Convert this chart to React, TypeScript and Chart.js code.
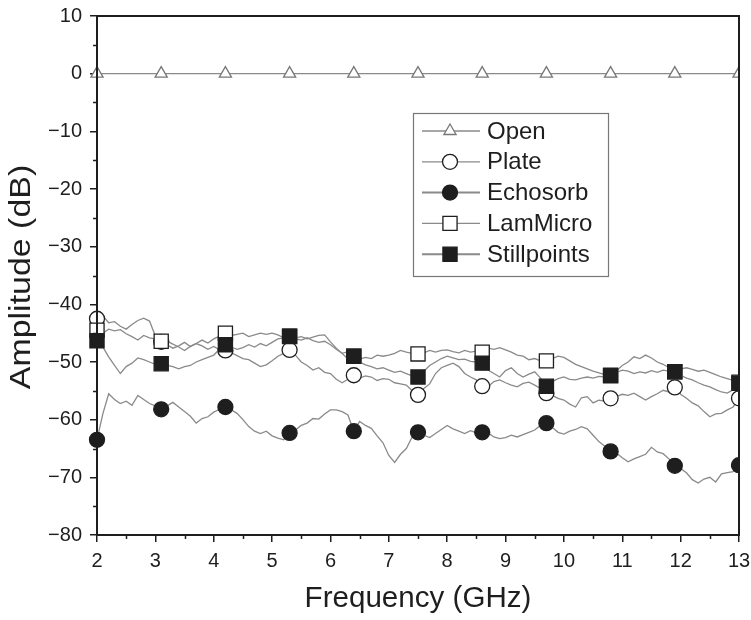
import React, { useEffect, useRef } from 'react';
import { Chart, registerables } from 'chart.js';
Chart.register(...registerables);

// Frequency grid (GHz), 0.1 GHz apart from 2 to 13
const FREQ_START = 2;
const FREQ_STEP = 0.1;
const FREQ_COUNT = 111;
const FREQ = Array.from({ length: FREQ_COUNT }, (_, i) => Math.round((FREQ_START + i * FREQ_STEP) * 10) / 10);
// a marker every 11 samples (2, 3.1, 4.2 ... 13)
const MARKER_EVERY = 11;

const OPEN_FREQ = [2, 3.1, 4.2, 5.3, 6.4, 7.5, 8.6, 9.7, 10.8, 11.9, 13];
const OPEN = [0, 0, 0, 0, 0, 0, 0, 0, 0, 0, 0];

const PLATE = [
  -42.5, -42.0, -43.2, -43.0, -43.8, -44.3, -43.5, -42.8, -42.4, -42.9,
  -45.5, -46.5, -46.4, -46.9, -47.4, -48.0, -47.3, -46.8, -47.2, -47.8,
  -47.3, -47.9, -48.0, -48.4, -48.9, -49.4, -49.6, -50.2, -50.8, -50.5,
  -49.8, -49.0, -48.5, -47.9, -48.8, -50.0, -50.6, -51.4, -51.0, -51.8,
  -52.0, -53.0, -53.6, -53.0, -52.3, -52.8, -52.4, -52.6, -53.2, -52.9,
  -53.0, -53.6, -53.8, -54.0, -55.0, -55.7, -54.6, -53.8, -52.0, -51.0,
  -50.6, -50.2, -50.8, -52.0, -52.6, -53.1, -54.2, -54.3, -53.4, -53.1,
  -53.6, -54.0, -54.3, -53.7, -53.5, -54.0, -54.6, -55.4, -55.8, -56.3,
  -56.6, -57.3, -57.8, -56.2, -56.0, -57.1, -56.6, -56.8, -56.3, -56.0,
  -55.6, -55.8, -55.4, -56.0, -56.6, -56.0, -55.5, -54.9, -55.2, -54.4,
  -55.6, -56.3, -57.1, -57.6, -58.6, -59.5, -59.0, -58.9, -58.3, -57.8,
  -56.3,
];

const ECHOSORB = [
  -63.5, -59.0, -55.5, -56.5, -57.2, -56.8, -57.5, -55.8, -56.5, -57.2,
  -57.6, -58.2, -57.6, -57.0, -57.8, -58.6, -59.4, -60.6, -59.8, -59.5,
  -58.7, -58.2, -57.8, -58.3, -58.9, -60.0, -61.2, -62.0, -62.4, -62.0,
  -62.8, -63.2, -63.5, -62.3, -61.8, -61.0, -60.6, -59.8, -59.9, -59.0,
  -58.3, -58.3, -58.6, -59.2, -62.0, -60.3, -61.0, -61.5, -62.8, -64.0,
  -66.2, -67.4, -66.0, -65.0, -63.0, -62.2, -62.7, -63.1, -62.4, -61.7,
  -61.0, -61.6, -62.0, -62.4, -61.9, -62.3, -62.2, -62.3, -63.0, -63.3,
  -63.1, -62.7, -63.0, -62.6, -62.2, -61.8, -61.0, -60.6, -61.3, -62.2,
  -62.5, -62.0, -61.7, -61.2, -61.6, -62.7, -63.8, -64.6, -65.5, -65.8,
  -66.6, -67.3, -66.8, -66.4, -66.0, -64.8, -65.6, -65.9, -66.8, -68.0,
  -68.5, -69.2, -70.4, -71.0, -70.3, -70.0, -70.8, -69.4, -69.2, -69.0,
  -67.9,
];

const LAMMICRO = [
  -44.5, -45.0, -44.3, -44.6, -44.4, -45.1, -45.6, -46.2, -45.4, -45.8,
  -46.0, -46.4, -47.0, -47.6, -47.2, -46.6, -47.3, -46.8, -46.2, -46.7,
  -46.0, -45.5, -45.0, -45.4, -45.2, -45.0, -45.6, -45.3, -45.0, -45.2,
  -45.0, -45.3, -45.8, -45.5, -46.0, -46.2, -45.8, -46.3, -46.6, -46.4,
  -47.0, -47.8, -48.5, -48.2, -49.0, -49.5, -49.2, -49.4, -48.8, -49.0,
  -48.8, -48.5, -48.0, -48.3, -48.5, -48.6, -48.4, -48.0, -48.3, -48.0,
  -47.9, -48.2, -48.4, -48.0, -48.3, -48.1, -48.3, -47.6, -47.8, -47.5,
  -47.9, -48.3, -48.8, -49.0, -49.6, -49.4, -49.8, -49.8, -49.4, -49.0,
  -49.2, -49.8, -50.4, -50.8, -51.2, -51.6, -51.9, -52.2, -52.3, -51.5,
  -50.6, -50.0, -49.1, -49.4, -48.8, -49.3, -50.0, -50.4, -51.0, -51.7,
  -51.2, -51.0, -51.3, -51.6, -51.4, -51.8, -52.2, -52.6, -52.9, -53.2,
  -53.5,
];

const STILLPOINTS = [
  -46.3, -47.4, -49.1, -50.6, -52.0, -50.8, -50.2, -49.3, -49.6, -50.0,
  -50.4, -50.3, -50.6, -50.8, -51.2, -50.8, -50.6, -50.0, -49.6, -49.2,
  -48.8, -47.8, -47.0, -47.4, -47.8, -47.5, -47.0, -47.4, -46.8, -47.2,
  -46.6, -46.0, -45.8, -45.6, -45.8, -45.6, -46.0, -45.7, -45.4, -45.3,
  -46.5, -47.6, -48.5, -49.5, -49.0, -50.0, -50.5, -50.8, -51.2, -51.0,
  -51.4, -51.8, -51.6, -52.0, -52.4, -52.6, -51.6, -50.6, -50.0, -49.4,
  -49.0, -49.3, -49.6, -49.5, -49.9, -50.0, -50.2, -51.4, -52.0, -52.6,
  -51.5, -51.0, -52.0, -52.6, -52.1, -51.7, -52.8, -54.2, -53.4, -52.9,
  -52.6, -53.0, -53.1, -52.8, -52.6, -52.8, -52.5, -52.6, -52.4, -51.8,
  -51.4, -51.6, -52.0, -51.7, -51.9, -51.5, -51.8, -51.4, -51.6, -51.7,
  -52.3, -52.8, -53.1, -53.6, -54.0, -54.3, -54.8, -55.2, -55.4, -54.8,
  -53.7,
];

const X_TICKS = [2, 3, 4, 5, 6, 7, 8, 9, 10, 11, 12, 13];
const X_MINOR = [2.5, 3.5, 4.5, 5.5, 6.5, 7.5, 8.5, 9.5, 10.5, 11.5, 12.5];
const Y_TICKS = [10, 0, -10, -20, -30, -40, -50, -60, -70, -80];
const Y_MINOR = [5, -5, -15, -25, -35, -45, -55, -65, -75];

const LEGEND_LABELS = ['Open', 'Plate', 'Echosorb', 'LamMicro', 'Stillpoints'];
const X_TITLE = 'Frequency (GHz)';
const Y_TITLE = 'Amplitude (dB)';

const LINE_GRAY = '#8a8a8a';
const INK = '#1e1e1e';
const FONT = "'Liberation Sans', Arial, sans-serif";

type MarkerSpec = { style: string; fill: string; stroke: string; r: number };
const MARKERS: MarkerSpec[] = [
  { style: 'triangle', fill: '#ffffff', stroke: '#777777', r: 7 },
  { style: 'circle', fill: '#ffffff', stroke: INK, r: 7.5 },
  { style: 'circle', fill: INK, stroke: INK, r: 7.5 },
  { style: 'rect', fill: '#ffffff', stroke: INK, r: 10 },
  { style: 'rect', fill: INK, stroke: INK, r: 10 },
];

function series(values: number[]) {
  return values.map((v, i) => ({ x: FREQ[i], y: v }));
}
function radii(r: number) {
  return FREQ.map((_, i) => (i % MARKER_EVERY === 0 ? r : 0));
}

function drawMarker(ctx: CanvasRenderingContext2D, m: MarkerSpec, x: number, y: number) {
  ctx.save();
  ctx.beginPath();
  if (m.style === 'circle') {
    ctx.arc(x, y, m.r, 0, Math.PI * 2);
  } else if (m.style === 'rect') {
    const s = Math.SQRT1_2 * m.r;
    ctx.rect(x - s, y - s, 2 * s, 2 * s);
  } else {
    const r = m.r;
    ctx.moveTo(x, y - r);
    ctx.lineTo(x + r * 0.866, y + r * 0.5);
    ctx.lineTo(x - r * 0.866, y + r * 0.5);
    ctx.closePath();
  }
  ctx.fillStyle = m.fill;
  ctx.fill();
  ctx.lineWidth = 1.3;
  ctx.strokeStyle = m.stroke;
  ctx.stroke();
  ctx.restore();
}

const decorPlugin = {
  id: 'decor',
  afterDraw(chart: any) {
    const { ctx, chartArea: ca, scales } = chart;
    const xs = scales.x;
    const ys = scales.y;
    ctx.save();
    // frame
    ctx.strokeStyle = INK;
    ctx.lineWidth = 2;
    ctx.strokeRect(ca.left, ca.top, ca.right - ca.left, ca.bottom - ca.top);
    // minor ticks
    ctx.lineWidth = 1.5;
    ctx.beginPath();
    X_MINOR.forEach((v) => {
      const px = Math.round(xs.getPixelForValue(v)) + 0.5;
      ctx.moveTo(px, ca.bottom);
      ctx.lineTo(px, ca.bottom + 4);
    });
    Y_MINOR.forEach((v) => {
      const py = Math.round(ys.getPixelForValue(v)) + 0.5;
      ctx.moveTo(ca.left, py);
      ctx.lineTo(ca.left - 4, py);
    });
    ctx.stroke();

    // axis titles (slightly stretched like the source figure)
    ctx.fillStyle = INK;
    ctx.textAlign = 'center';
    ctx.textBaseline = 'middle';
    ctx.font = `29px ${FONT}`;
    ctx.save();
    ctx.translate((ca.left + ca.right) / 2, 599);
    ctx.scale(1.02, 1);
    ctx.fillText(X_TITLE, 0, 0);
    ctx.restore();
    ctx.save();
    ctx.translate(22, 277);
    ctx.rotate(-Math.PI / 2);
    ctx.scale(1.17, 1);
    ctx.fillText(Y_TITLE, 0, 0);
    ctx.restore();

    // legend
    const bx = ca.left + 316;
    const by = ca.top + 97;
    const bw = 195;
    const bh = 163;
    ctx.fillStyle = '#ffffff';
    ctx.fillRect(bx, by, bw, bh);
    ctx.strokeStyle = '#777777';
    ctx.lineWidth = 1.2;
    ctx.strokeRect(bx + 0.5, by + 0.5, bw, bh);
    ctx.font = `24px ${FONT}`;
    ctx.textBaseline = 'middle';
    ctx.textAlign = 'left';
    LEGEND_LABELS.forEach((label, i) => {
      const ry = by + 18 + i * 30.8;
      ctx.strokeStyle = LINE_GRAY;
      ctx.lineWidth = i === 2 || i === 4 ? 2 : 1.3;
      ctx.beginPath();
      ctx.moveTo(bx + 9, ry);
      ctx.lineTo(bx + 67, ry);
      ctx.stroke();
      drawMarker(ctx, MARKERS[i], bx + 37, ry);
      ctx.fillStyle = INK;
      ctx.fillText(label, bx + 74, ry + 1);
    });
    ctx.restore();
  },
};

export default function App() {
  const ref = useRef<HTMLCanvasElement | null>(null);
  useEffect(() => {
    document.body.style.margin = '0';
    const canvas = ref.current;
    if (!canvas) return;
    const mk = (label: string, data: any[], m: MarkerSpec, order: number, radius: any) => ({
      label,
      data,
      order,
      borderColor: LINE_GRAY,
      borderWidth: 1.3,
      pointStyle: m.style,
      pointRadius: radius,
      pointHoverRadius: radius,
      pointBackgroundColor: m.fill,
      pointBorderColor: m.stroke,
      pointBorderWidth: 1.3,
      tension: 0,
      clip: { left: 12, top: 0, right: 0, bottom: 0 },
    });
    const chart = new Chart(canvas, {
      type: 'line',
      data: {
        datasets: [
          mk('Open', OPEN_FREQ.map((f, i) => ({ x: f, y: OPEN[i] })), MARKERS[0], 4, MARKERS[0].r),
          mk('Plate', series(PLATE), MARKERS[1], 3, radii(MARKERS[1].r)),
          mk('Echosorb', series(ECHOSORB), MARKERS[2], 1, radii(MARKERS[2].r)),
          mk('LamMicro', series(LAMMICRO), MARKERS[3], 2, radii(MARKERS[3].r)),
          mk('Stillpoints', series(STILLPOINTS), MARKERS[4], 0, radii(MARKERS[4].r)),
        ],
      },
      options: {
        animation: false,
        responsive: true,
        maintainAspectRatio: false,
        layout: { autoPadding: false, padding: { left: 0, top: 16, right: 12, bottom: 0 } },
        plugins: { legend: { display: false }, tooltip: { enabled: false } },
        scales: {
          x: {
            type: 'linear',
            min: 2,
            max: 13,
            afterFit: (s: any) => {
              s.height = 85;
              s.paddingLeft = 0;
              s.paddingRight = 0;
            },
            afterBuildTicks: (s: any) => { s.ticks = X_TICKS.map((v) => ({ value: v })); },
            ticks: {
              color: INK,
              font: { size: 20, family: FONT },
              padding: 7,
              maxRotation: 0,
              callback: (v: any) => String(v),
            },
            grid: { drawOnChartArea: false, drawTicks: true, tickLength: 7, color: INK, lineWidth: 1.5 },
            border: { color: INK, width: 2 },
            title: { display: false },
          },
          y: {
            type: 'linear',
            min: -80,
            max: 10,
            afterFit: (s: any) => {
              s.width = 97;
              s.paddingTop = 0;
              s.paddingBottom = 0;
            },
            afterBuildTicks: (s: any) => { s.ticks = Y_TICKS.map((v) => ({ value: v })); },
            ticks: {
              color: INK,
              font: { size: 20, family: FONT },
              padding: 8,
              callback: (v: any) => (Number(v) < 0 ? '\u2212' + Math.abs(Number(v)) : String(v)),
            },
            grid: { drawOnChartArea: false, drawTicks: true, tickLength: 7, color: INK, lineWidth: 1.5 },
            border: { color: INK, width: 2 },
            title: { display: false },
          },
        },
      },
      plugins: [decorPlugin],
    });
    return () => chart.destroy();
  }, []);
  return (
    <div style={{ position: 'relative', width: 751, height: 620 }}>
      <canvas ref={ref} />
    </div>
  );
}
